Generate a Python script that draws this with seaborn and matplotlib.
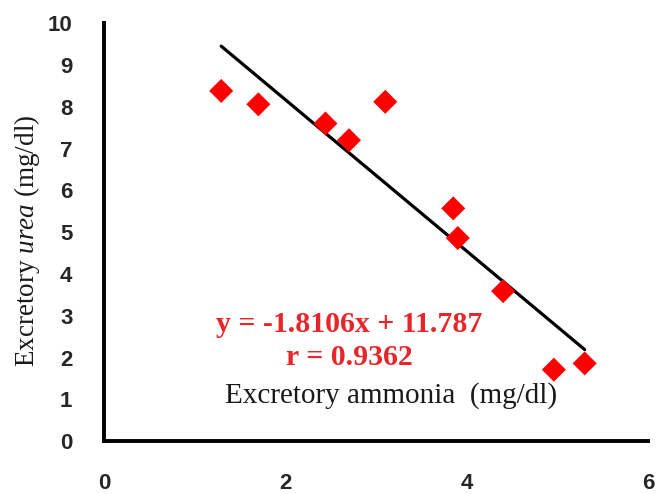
import matplotlib
matplotlib.use('Agg')
import matplotlib.pyplot as plt
import seaborn as sns
import numpy as np
import pandas as pd

# data
ammonia = [1.29, 1.70, 2.44, 2.70, 3.10, 3.85, 3.90, 4.40, 4.96, 5.30]
urea = [8.38, 8.06, 7.60, 7.20, 8.12, 5.57, 4.86, 3.59, 1.71, 1.86]
slope = -1.8106
intercept = 11.787
r_value = 0.9362
x_ticks = [0, 2, 4, 6]
y_ticks = [0, 1, 2, 3, 4, 5, 6, 7, 8, 9, 10]

sns.set_style('white')
plt.rcParams['font.family'] = ['Liberation Sans', 'DejaVu Sans']
plt.rcParams['mathtext.fontset'] = 'custom'
plt.rcParams['mathtext.rm'] = 'Liberation Serif'
plt.rcParams['mathtext.it'] = 'Liberation Serif:italic'

df = pd.DataFrame({'ammonia': ammonia, 'urea': urea})

fig = plt.figure(figsize=(6.6, 4.94), dpi=100)
ax = fig.add_axes([0.158, 0.107, 0.824, 0.846])

sns.scatterplot(data=df, x='ammonia', y='urea', marker='D', color='#ff0000',
                s=150, edgecolor='none', ax=ax, zorder=3)

# trend line from the fitted equation
xl = np.array([min(ammonia), max(ammonia)])
ax.plot(xl, slope * xl + intercept, color='black', lw=2.3, zorder=2)

ax.set_xlim(0, 6)
ax.set_ylim(0, 10)
ax.set_xticks(x_ticks)
ax.set_yticks(y_ticks)
ax.tick_params(axis='both', direction='out', length=5, width=2.4, color='black',
               labelsize=16)
ax.tick_params(axis='x', pad=18)
ax.tick_params(axis='y', pad=18)
for lab in ax.get_xticklabels() + ax.get_yticklabels():
    lab.set_fontweight('bold')

for side in ['top', 'right']:
    ax.spines[side].set_visible(False)
for side in ['left', 'bottom']:
    ax.spines[side].set_linewidth(2.8)
    ax.spines[side].set_color('black')

ax.set_xlabel('')
ax.set_ylabel('')
fig.text(0.041, 0.512, r'Excretory $\mathit{urea}$ (mg/dl)', rotation=90,
         ha='center', va='center', fontsize=19.5, family='Liberation Serif',
         color='#1a1a1a')
ax.text(3.16, 1.1, 'Excretory ammonia  (mg/dl)', ha='center', va='center',
        fontsize=21, family='Liberation Serif', color='#1a1a1a')

ax.text(2.70, 2.78, 'y = %.4fx + %.3f' % (slope, intercept), ha='center',
        va='center', fontsize=21.5, fontweight='bold', family='Liberation Serif',
        color='#e8262a')
ax.text(2.70, 2.0, 'r = %.4f' % r_value, ha='center', va='center',
        fontsize=21.5, fontweight='bold', family='Liberation Serif',
        color='#e8262a')

fig.savefig('out.png', dpi=100)
